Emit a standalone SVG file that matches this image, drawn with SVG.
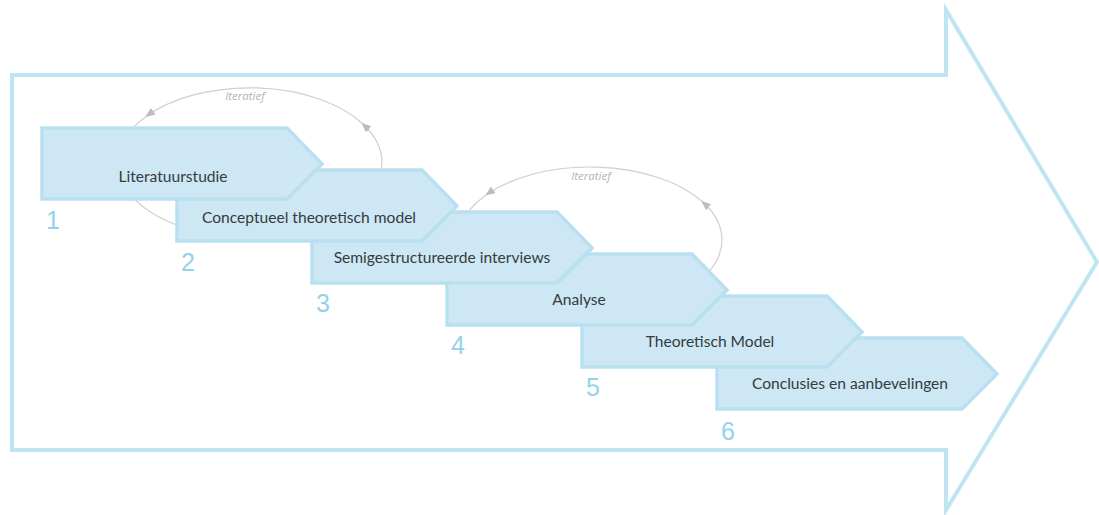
<svg xmlns="http://www.w3.org/2000/svg" width="1099" height="515" viewBox="0 0 1099 515">
  <style>
    .frame { fill: none; stroke: #bfe5f3; stroke-width: 4; stroke-linejoin: miter; }
    .step { fill: #cde8f4; stroke: #b8e0f1; stroke-width: 3.5; stroke-linejoin: miter; }
    .label { font-family: Lato, "Open Sans", sans-serif; font-size: 15.6px; fill: #363b40; text-anchor: middle; }
    .num { font-family: "Liberation Sans", Arial, sans-serif; font-size: 25px; fill: #93d2ec; }
    .loop { fill: none; stroke: #cfcfcf; stroke-width: 1.2; }
    .iter { font-family: "Open Sans", sans-serif; font-size: 11.5px; font-style: italic; fill: #b4b4b4; text-anchor: middle; }
  </style>
  <defs>
    <marker id="head" markerUnits="userSpaceOnUse" markerWidth="10" markerHeight="8" refX="9" refY="4" orient="auto">
      <path d="M0,0 L10,4 L0,8 Z" fill="#bdbdbd"/>
    </marker>
  </defs>

  <!-- big outlined process arrow -->
  <path id="process-arrow" class="frame" d="M12,75 L946,75 L946,10 L1097,262 L946,510 L946,450 L12,450 Z"/>

  <!-- iteration loops -->
  <g id="connectors">
    <g id="loop-1">
      <path class="loop" d="M382,163 A132,75 0 0 0 362.1,123.3" marker-end="url(#head)"/>
      <path class="loop" d="M362.1,123.3 A132,75 0 0 0 146,116.5" marker-end="url(#head)"/>
      <path class="loop" d="M146,116.5 A132,75 0 1 0 382,163"/>
      <text class="iter" x="245" y="100">Iteratief</text>
    </g>
    <g id="loop-2">
      <path class="loop" d="M722,240 A132,73 0 0 0 701.9,201.3" marker-end="url(#head)"/>
      <path class="loop" d="M701.9,201.3 A132,73 0 0 0 486,195" marker-end="url(#head)"/>
      <path class="loop" d="M486,195 A132,73 0 1 0 722,240"/>
      <text class="iter" x="591" y="180">Iteratief</text>
    </g>
  </g>

  <!-- steps, drawn last-to-first so each earlier step overlaps the next -->
  <g id="step-6">
    <polygon class="step" points="717,338 962,338 997,374 962,409 717,409"/>
    <text class="label" x="850" y="389">Conclusies en aanbevelingen</text>
    <text class="num" x="721" y="440">6</text>
  </g>
  <g id="step-5">
    <polygon class="step" points="582,296 827,296 862,332 827,367 582,367"/>
    <text class="label" x="710" y="347">Theoretisch Model</text>
    <text class="num" x="586" y="396">5</text>
  </g>
  <g id="step-4">
    <polygon class="step" points="447,254 692,254 727,290 692,325 447,325"/>
    <text class="label" x="579" y="305">Analyse</text>
    <text class="num" x="451" y="354">4</text>
  </g>
  <g id="step-3">
    <polygon class="step" points="312,212 557,212 592,248 557,283 312,283"/>
    <text class="label" x="442" y="263">Semigestructureerde interviews</text>
    <text class="num" x="316" y="312">3</text>
  </g>
  <g id="step-2">
    <polygon class="step" points="177,170 422,170 457,206 422,241 177,241"/>
    <text class="label" x="309" y="223">Conceptueel theoretisch model</text>
    <text class="num" x="181" y="271">2</text>
  </g>
  <g id="step-1">
    <polygon class="step" points="42,128 287,128 322,164 287,199 42,199"/>
    <text class="label" x="173" y="182">Literatuurstudie</text>
    <text class="num" x="46" y="229">1</text>
  </g>
</svg>
